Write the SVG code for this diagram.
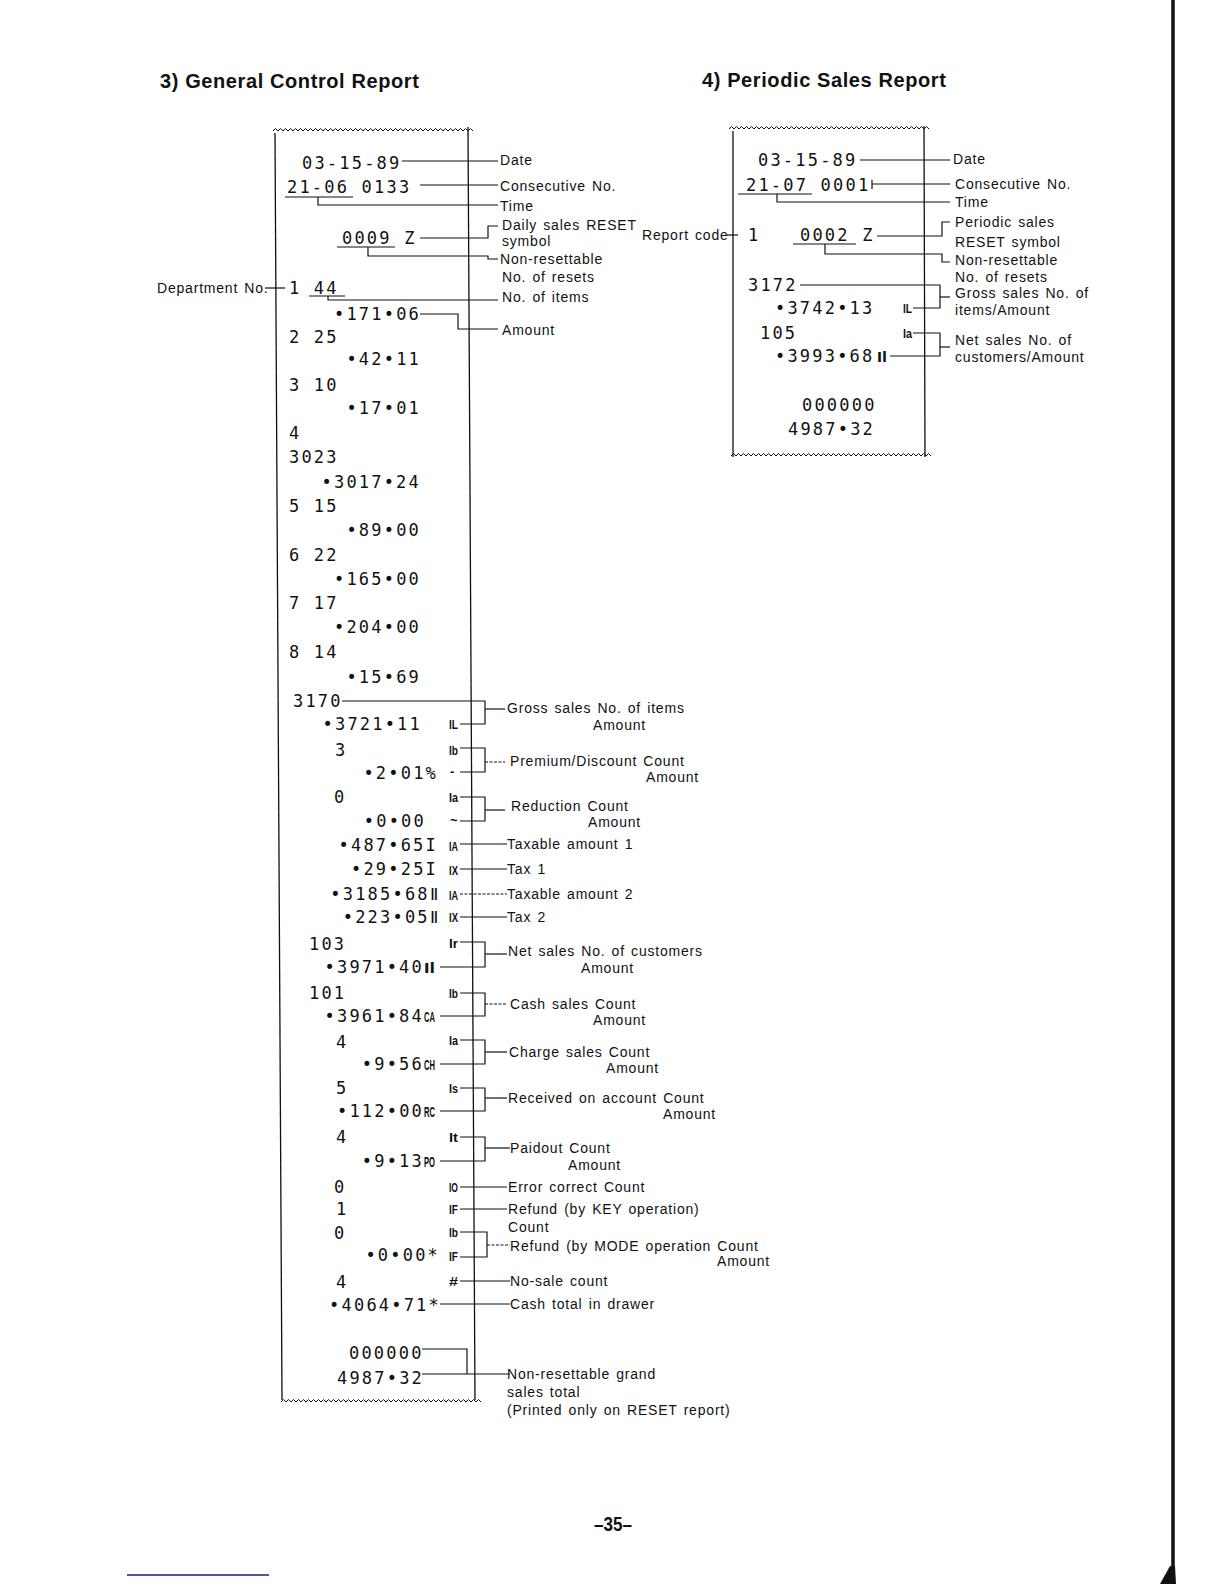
<svg xmlns="http://www.w3.org/2000/svg" xmlns:xlink="http://www.w3.org/1999/xlink" width="1224" height="1584" viewBox="0 0 1224 1584">
<style>
.hd{font-family:"Liberation Sans",Arial,sans-serif;font-weight:bold;font-size:20px;letter-spacing:0.6px;fill:#111}
.lb{font-family:"Liberation Sans",Arial,sans-serif;font-size:14px;letter-spacing:0.8px;word-spacing:1.5px;fill:#111}
.rc{font-family:"DejaVu Sans Mono","Liberation Mono",monospace;font-size:17px;letter-spacing:2.2px;fill:#111}
.re{font-family:"DejaVu Sans Mono","Liberation Mono",monospace;font-size:17px;letter-spacing:2.2px;fill:#111;text-anchor:end}
.sym{font-family:"Liberation Sans",Arial,sans-serif;font-weight:bold;font-size:13px;fill:#111}
.sx{font-family:"Liberation Sans",Arial,sans-serif;font-weight:bold;font-size:14px;fill:#111}
.ln{fill:none;stroke:#111;stroke-width:1.2}
.dl{fill:none;stroke:#111;stroke-width:1.1;stroke-dasharray:3,1.5}
.edge{fill:none;stroke:#111;stroke-width:1.3}
.pg{font-family:"Liberation Sans",Arial,sans-serif;font-weight:bold;font-size:21px;fill:#111}
</style>
<defs>
<path id="wv" d="M0,0 l2.5,-2.5 2.5,2.5 2.5,-2.5 2.5,2.5 2.5,-2.5 2.5,2.5 2.5,-2.5 2.5,2.5 2.5,-2.5 2.5,2.5 2.5,-2.5 2.5,2.5 2.5,-2.5 2.5,2.5 2.5,-2.5 2.5,2.5 2.5,-2.5 2.5,2.5 2.5,-2.5 2.5,2.5 2.5,-2.5 2.5,2.5 2.5,-2.5 2.5,2.5 2.5,-2.5 2.5,2.5 2.5,-2.5 2.5,2.5 2.5,-2.5 2.5,2.5 2.5,-2.5 2.5,2.5 2.5,-2.5 2.5,2.5 2.5,-2.5 2.5,2.5 2.5,-2.5 2.5,2.5 2.5,-2.5 2.5,2.5 2.5,-2.5 2.5,2.5 2.5,-2.5 2.5,2.5 2.5,-2.5 2.5,2.5 2.5,-2.5 2.5,2.5 2.5,-2.5 2.5,2.5 2.5,-2.5 2.5,2.5 2.5,-2.5 2.5,2.5 2.5,-2.5 2.5,2.5 2.5,-2.5 2.5,2.5 2.5,-2.5 2.5,2.5 2.5,-2.5 2.5,2.5 2.5,-2.5 2.5,2.5 2.5,-2.5 2.5,2.5 2.5,-2.5 2.5,2.5 2.5,-2.5 2.5,2.5 2.5,-2.5 2.5,2.5 2.5,-2.5 2.5,2.5 2.5,-2.5 2.5,2.5 2.5,-2.5 2.5,2.5 2.5,-2.5 2.5,2.5" fill="none" stroke="#111" stroke-width="1"/>
</defs>
<rect width="1224" height="1584" fill="#fff"/>

<g id="headings">
<text class="hd" x="160" y="88">3) General Control Report</text>
<text class="hd" x="702" y="87">4) Periodic Sales Report</text>
</g>

<g id="receipt-general">
<use xlink:href="#wv" x="273" y="131"/>
<path class="edge" d="M275,133 L282,1400"/>
<path class="edge" d="M468,127 L475,1400"/>
<use xlink:href="#wv" x="281" y="1402"/>
<text class="rc" x="302" y="169">03-15-89</text>
<text class="rc" x="287" y="193">21-06 0133</text>
<text class="rc" x="342" y="244">0009 Z</text>
<text class="rc" x="289" y="294">1 44</text>
<text class="re" x="421" y="320">•171•06</text>
<text class="rc" x="289" y="343">2 25</text>
<text class="re" x="421" y="365">•42•11</text>
<text class="rc" x="289" y="391">3 10</text>
<text class="re" x="421" y="414">•17•01</text>
<text class="rc" x="289" y="439">4</text>
<text class="rc" x="289" y="463">3023</text>
<text class="re" x="421" y="488">•3017•24</text>
<text class="rc" x="289" y="512">5 15</text>
<text class="re" x="421" y="536">•89•00</text>
<text class="rc" x="289" y="561">6 22</text>
<text class="re" x="421" y="585">•165•00</text>
<text class="rc" x="289" y="609">7 17</text>
<text class="re" x="421" y="633">•204•00</text>
<text class="rc" x="289" y="658">8 14</text>
<text class="re" x="421" y="683">•15•69</text>
<text class="rc" x="293" y="707">3170</text>
<text class="re" x="422" y="730">•3721•11</text>
<text class="rc" x="335" y="756">3</text>
<text class="re" x="438" y="779">•2•01%</text>
<text class="rc" x="334" y="803">0</text>
<text class="re" x="426" y="827">•0•00</text>
<text class="re" x="438" y="851">•487•65I</text>
<text class="re" x="438" y="875">•29•25I</text>
<text class="re" x="440" y="900">•3185•68Ⅱ</text>
<text class="re" x="440" y="923">•223•05Ⅱ</text>
<text class="rc" x="309" y="950">103</text>
<text class="re" x="424" y="973">•3971•40</text>
<text class="rc" x="309" y="999">101</text>
<text class="re" x="424" y="1022">•3961•84</text>
<text class="rc" x="336" y="1048">4</text>
<text class="re" x="424" y="1070">•9•56</text>
<text class="rc" x="336" y="1094">5</text>
<text class="re" x="424" y="1117">•112•00</text>
<text class="rc" x="336" y="1143">4</text>
<text class="re" x="424" y="1167">•9•13</text>
<text class="rc" x="334" y="1193">0</text>
<text class="rc" x="336" y="1215">1</text>
<text class="rc" x="334" y="1239">0</text>
<text class="re" x="440" y="1261">•0•00*</text>
<text class="rc" x="336" y="1288">4</text>
<text class="re" x="441" y="1311">•4064•71*</text>
<text class="rc" x="349" y="1359">000000</text>
<text class="rc" x="337" y="1384">4987•32</text>
<text class="sx" x="424" y="973" textLength="11" lengthAdjust="spacingAndGlyphs">Il</text>
<text class="sx" x="424" y="1022" textLength="11" lengthAdjust="spacingAndGlyphs">CA</text>
<text class="sx" x="424" y="1070" textLength="11" lengthAdjust="spacingAndGlyphs">CH</text>
<text class="sx" x="424" y="1117" textLength="11" lengthAdjust="spacingAndGlyphs">RC</text>
<text class="sx" x="424" y="1167" textLength="11" lengthAdjust="spacingAndGlyphs">PO</text>
<text class="sym" x="449" y="729" textLength="9" lengthAdjust="spacingAndGlyphs">IL</text>
<text class="sym" x="449" y="755" textLength="9" lengthAdjust="spacingAndGlyphs">Ib</text>
<text class="sym" x="450" y="776">-</text>
<text class="sym" x="449" y="802" textLength="9" lengthAdjust="spacingAndGlyphs">Ia</text>
<text class="sym" x="450" y="825">~</text>
<text class="sym" x="449" y="851" textLength="9" lengthAdjust="spacingAndGlyphs">IA</text>
<text class="sym" x="449" y="875" textLength="9" lengthAdjust="spacingAndGlyphs">IX</text>
<text class="sym" x="449" y="900" textLength="9" lengthAdjust="spacingAndGlyphs">IA</text>
<text class="sym" x="449" y="922" textLength="9" lengthAdjust="spacingAndGlyphs">IX</text>
<text class="sym" x="449" y="948" textLength="9" lengthAdjust="spacingAndGlyphs">Ir</text>
<text class="sym" x="449" y="998" textLength="9" lengthAdjust="spacingAndGlyphs">Ib</text>
<text class="sym" x="449" y="1045" textLength="9" lengthAdjust="spacingAndGlyphs">Ia</text>
<text class="sym" x="449" y="1093" textLength="9" lengthAdjust="spacingAndGlyphs">Is</text>
<text class="sym" x="449" y="1142" textLength="9" lengthAdjust="spacingAndGlyphs">It</text>
<text class="sym" x="449" y="1192" textLength="9" lengthAdjust="spacingAndGlyphs">IO</text>
<text class="sym" x="449" y="1214" textLength="9" lengthAdjust="spacingAndGlyphs">IF</text>
<text class="sym" x="449" y="1237" textLength="9" lengthAdjust="spacingAndGlyphs">Ib</text>
<text class="sym" x="449" y="1261" textLength="9" lengthAdjust="spacingAndGlyphs">IF</text>
<text class="sym" x="449" y="1286" textLength="9" lengthAdjust="spacingAndGlyphs">#</text>
</g>

<g id="receipt-periodic">
<use xlink:href="#wv" x="729" y="129"/>
<path class="edge" d="M733,131 L733,457"/>
<path class="edge" d="M924,126 L925,457"/>
<use xlink:href="#wv" x="731" y="456"/>
<text class="rc" x="758" y="166">03-15-89</text>
<text class="rc" x="746" y="191">21-07 0001</text>
<text class="rc" x="748" y="241">1</text>
<text class="rc" x="800" y="241">0002 Z</text>
<text class="rc" x="748" y="291">3172</text>
<text class="rc" x="775" y="314">•3742•13</text>
<text class="rc" x="760" y="339">105</text>
<text class="rc" x="775" y="362">•3993•68</text>
<text class="rc" x="802" y="411">000000</text>
<text class="rc" x="788" y="435">4987•32</text>
<text class="sym" x="903" y="313" textLength="9" lengthAdjust="spacingAndGlyphs">IL</text>
<text class="sym" x="903" y="338" textLength="9" lengthAdjust="spacingAndGlyphs">Ia</text>
<text class="sx" x="877" y="362" textLength="10" lengthAdjust="spacingAndGlyphs">Il</text>
</g>

<g id="labels-general">
<text class="lb" x="157" y="293">Department No.</text>
<text class="lb" x="500" y="165">Date</text>
<text class="lb" x="500" y="191">Consecutive No.</text>
<text class="lb" x="500" y="211">Time</text>
<text class="lb" x="502" y="230">Daily sales RESET</text>
<text class="lb" x="502" y="246">symbol</text>
<text class="lb" x="500" y="264">Non-resettable</text>
<text class="lb" x="502" y="282">No. of resets</text>
<text class="lb" x="502" y="302">No. of items</text>
<text class="lb" x="502" y="335">Amount</text>
<text class="lb" x="507" y="713">Gross sales No. of items</text>
<text class="lb" x="593" y="730">Amount</text>
<text class="lb" x="510" y="766">Premium/Discount Count</text>
<text class="lb" x="646" y="782">Amount</text>
<text class="lb" x="511" y="811">Reduction Count</text>
<text class="lb" x="588" y="827">Amount</text>
<text class="lb" x="507" y="849">Taxable amount 1</text>
<text class="lb" x="507" y="874">Tax 1</text>
<text class="lb" x="507" y="899">Taxable amount 2</text>
<text class="lb" x="507" y="922">Tax 2</text>
<text class="lb" x="508" y="956">Net sales No. of customers</text>
<text class="lb" x="581" y="973">Amount</text>
<text class="lb" x="510" y="1009">Cash sales Count</text>
<text class="lb" x="593" y="1025">Amount</text>
<text class="lb" x="509" y="1057">Charge sales Count</text>
<text class="lb" x="606" y="1073">Amount</text>
<text class="lb" x="508" y="1103">Received on account Count</text>
<text class="lb" x="663" y="1119">Amount</text>
<text class="lb" x="510" y="1153">Paidout Count</text>
<text class="lb" x="568" y="1170">Amount</text>
<text class="lb" x="508" y="1192">Error correct Count</text>
<text class="lb" x="508" y="1214">Refund (by KEY operation)</text>
<text class="lb" x="508" y="1232">Count</text>
<text class="lb" x="510" y="1251">Refund (by MODE operation Count</text>
<text class="lb" x="717" y="1266">Amount</text>
<text class="lb" x="510" y="1286">No-sale count</text>
<text class="lb" x="510" y="1309">Cash total in drawer</text>
<text class="lb" x="507" y="1379">Non-resettable grand</text>
<text class="lb" x="507" y="1397">sales total</text>
<text class="lb" x="507" y="1415">(Printed only on RESET report)</text>
</g>

<g id="labels-periodic">
<text class="lb" x="642" y="240">Report code</text>
<text class="lb" x="953" y="164">Date</text>
<text class="lb" x="955" y="189">Consecutive No.</text>
<text class="lb" x="955" y="207">Time</text>
<text class="lb" x="955" y="227">Periodic sales</text>
<text class="lb" x="955" y="247">RESET symbol</text>
<text class="lb" x="955" y="265">Non-resettable</text>
<text class="lb" x="955" y="282">No. of resets</text>
<text class="lb" x="955" y="298">Gross sales No. of</text>
<text class="lb" x="955" y="315">items/Amount</text>
<text class="lb" x="955" y="345">Net sales No. of</text>
<text class="lb" x="955" y="362">customers/Amount</text>
</g>

<g id="connectors">
<path class="ln" d="M402,161 H498"/>
<path class="ln" d="M420,185 H498"/>
<path class="ln" d="M285,197 H353"/>
<path class="ln" d="M318,197 V205 H498"/>
<path class="ln" d="M337,247 H395"/>
<path class="ln" d="M420,238 H488 V226 H498"/>
<path class="ln" d="M368,247 V256 H488 V259 H498"/>
<path class="ln" d="M265,288 H285"/>
<path class="ln" d="M309,296 H345"/>
<path class="ln" d="M328,296 V300 H498"/>
<path class="ln" d="M420,314 H458 V329 H498"/>

<path class="ln" d="M342,701 H485 V724 H460"/>
<path class="ln" d="M485,709 H505"/>
<path class="ln" d="M460,748 H485 V772 H460"/>
<path class="dl" d="M485,762 H505"/>
<path class="ln" d="M460,797 H485 V821 H460"/>
<path class="ln" d="M485,810 H505"/>
<path class="ln" d="M460,844 H507"/>
<path class="ln" d="M460,869 H507"/>
<path class="dl" d="M460,894 H507"/>
<path class="ln" d="M460,917 H507"/>
<path class="ln" d="M460,942 H485 V967 H440"/>
<path class="ln" d="M485,954 H507"/>
<path class="ln" d="M460,993 H485 V1016 H440"/>
<path class="dl" d="M485,1004 H507"/>
<path class="ln" d="M460,1040 H485 V1064 H440"/>
<path class="ln" d="M485,1052 H507"/>
<path class="ln" d="M460,1088 H485 V1111 H440"/>
<path class="ln" d="M485,1098 H507"/>
<path class="ln" d="M460,1137 H485 V1161 H440"/>
<path class="ln" d="M485,1148 H510"/>
<path class="ln" d="M460,1187 H507"/>
<path class="ln" d="M460,1209 H507"/>
<path class="ln" d="M460,1232 H487 V1257 H460"/>
<path class="dl" d="M487,1245 H510"/>
<path class="ln" d="M460,1281 H510"/>
<path class="ln" d="M440,1304 H510"/>
<path class="ln" d="M422,1349 H467 V1374"/>
<path class="ln" d="M422,1374 H510"/>

<path class="ln" d="M860,160 H950"/>
<path class="ln" d="M872,184 H950"/>
<path class="ln" d="M872,180 V189"/>
<path class="ln" d="M738,194 H812"/>
<path class="ln" d="M777,194 V202 H950"/>
<path class="ln" d="M727,235 H738"/>
<path class="ln" d="M793,244 H856"/>
<path class="ln" d="M877,236 H942 V222 H950"/>
<path class="ln" d="M825,244 V254 H942 V262 H950"/>
<path class="ln" d="M800,285 H940 V308 H913"/>
<path class="ln" d="M940,297 H950"/>
<path class="ln" d="M913,333 H940 V356 H890"/>
<path class="ln" d="M940,347 H950"/>
</g>

<g id="page-number">
<text class="pg" x="613" y="1531" text-anchor="middle" textLength="38" lengthAdjust="spacingAndGlyphs">–35–</text>
</g>

<g id="page-marks">
<path d="M127,1575 H269" stroke="#1a1a8c" stroke-width="1.5" fill="none"/>
<path d="M1173,0 V1584" stroke="#111" stroke-width="3.5" fill="none"/>
<path d="M1160,1584 L1170,1566 L1175,1566 L1176,1584 Z" fill="#111"/>
</g>
</svg>
